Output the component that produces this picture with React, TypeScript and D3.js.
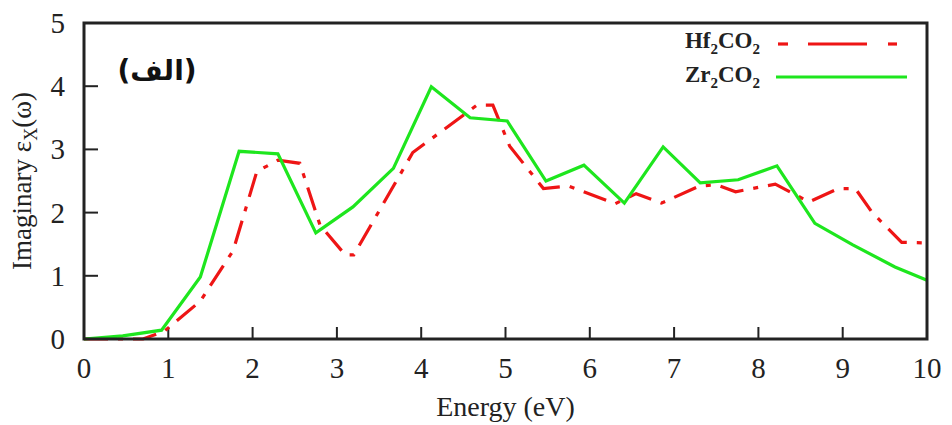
import React from "react";
import * as d3 from "d3";

const xTicks = [0, 1, 2, 3, 4, 5, 6, 7, 8, 9, 10];
const yTicks = [0, 1, 2, 3, 4, 5];

const energyZr = [0, 0.46, 0.92, 1.38, 1.84, 2.3, 2.75, 3.19, 3.67, 4.12, 4.58, 5.02, 5.48, 5.93, 6.41, 6.87, 7.31, 7.76, 8.22, 8.67, 9.12, 9.62, 10];
const valuesZr = [0, 0.05, 0.14, 0.98, 2.97, 2.93, 1.68, 2.09, 2.7, 3.99, 3.5, 3.45, 2.5, 2.75, 2.15, 3.04, 2.47, 2.52, 2.74, 1.83, 1.49, 1.14, 0.93];

const energyHf = [0, 0.7, 0.95, 1.38, 1.77, 2.05, 2.3, 2.56, 2.8, 3.1, 3.2, 3.9, 4.66, 4.85, 5.05, 5.45, 5.75, 6.3, 6.55, 6.85, 7.3, 7.5, 7.73, 8.2, 8.6, 8.95, 9.15, 9.35, 9.7, 10];
const valuesHf = [0, 0, 0.12, 0.6, 1.4, 2.65, 2.83, 2.78, 1.8, 1.33, 1.33, 2.95, 3.7, 3.7, 3.05, 2.38, 2.42, 2.14, 2.3, 2.15, 2.42, 2.44, 2.33, 2.45, 2.17, 2.38, 2.38, 2.0, 1.53, 1.52];

const W = 952;
const H = 425;
const L = 84, R = 927, T = 23, B = 339;
const RED = "#ee1515";
const GREEN = "#1ee61e";
const SERIF = "'Liberation Serif', 'Times New Roman', serif";

export default function App() {
  const x = d3.scaleLinear().domain([0, 10]).range([L, R]);
  const y = d3.scaleLinear().domain([0, 5]).range([B, T]);
  const line = d3.line<[number, number]>().x((d) => x(d[0])).y((d) => y(d[1]));
  const zr = line(energyZr.map((e, i) => [e, valuesZr[i]] as [number, number])) || "";
  const hf = line(energyHf.map((e, i) => [e, valuesHf[i]] as [number, number])) || "";

  return (
    <svg width={W} height={H} style={{ position: "absolute", left: 0, top: 0, background: "#fff" }} fontFamily={SERIF}>
      <rect x={0} y={0} width={W} height={H} fill="#fff" />
      {yTicks.map((t) => (
        <g key={"y" + t}>
          {t > 0 && t < 5 && <line x1={L} x2={L + 14} y1={y(t)} y2={y(t)} stroke="#222" strokeWidth={2} />}
          <text x={65} y={y(t) + 10} fontSize={29} textAnchor="end" fill="#222">{t}</text>
        </g>
      ))}
      {xTicks.map((t) => (
        <g key={"x" + t}>
          {t > 0 && t < 10 && <line x1={x(t)} x2={x(t)} y1={B} y2={B - 12} stroke="#222" strokeWidth={2} />}
          <text x={x(t)} y={378} fontSize={29} textAnchor="middle" fill="#222">{t}</text>
        </g>
      ))}
      <path d={hf} fill="none" stroke={RED} strokeWidth={3.2} strokeDasharray="24,10,5,10" />
      <path d={zr} fill="none" stroke={GREEN} strokeWidth={3.2} strokeLinejoin="miter" />
      <rect x={L} y={T} width={R - L} height={B - T} fill="none" stroke="#222" strokeWidth={3} />
      <text x={157} y={80} fontSize={28} fontWeight="bold" textAnchor="middle" fontFamily="'DejaVu Sans', sans-serif" fill="#111">(الف)</text>
      <text x={760} y={48} fontSize={23} fontWeight="bold" textAnchor="end" fill="#222">
        Hf<tspan fontSize={15} dy={6}>2</tspan><tspan dy={-6}>CO</tspan><tspan fontSize={15} dy={6}>2</tspan>
      </text>
      <line x1={778} x2={788} y1={44} y2={44} stroke={RED} strokeWidth={3.2} />
      <line x1={808} x2={867} y1={44} y2={44} stroke={RED} strokeWidth={3.2} />
      <line x1={888} x2={897} y1={44} y2={44} stroke={RED} strokeWidth={3.2} />
      <text x={760} y={82} fontSize={23} fontWeight="bold" textAnchor="end" fill="#222">
        Zr<tspan fontSize={15} dy={6}>2</tspan><tspan dy={-6}>CO</tspan><tspan fontSize={15} dy={6}>2</tspan>
      </text>
      <line x1={776} x2={907} y1={77} y2={77} stroke={GREEN} strokeWidth={3.2} />
      <text x={(L + R) / 2} y={416} fontSize={28} textAnchor="middle" fill="#222">Energy (eV)</text>
      <text transform={`translate(31, ${(T + B) / 2}) rotate(-90)`} fontSize={27} textAnchor="middle" fill="#222">
        Imaginary ε<tspan fontSize={18} dy={6}>X</tspan><tspan dy={-6}>(ω)</tspan>
      </text>
    </svg>
  );
}
